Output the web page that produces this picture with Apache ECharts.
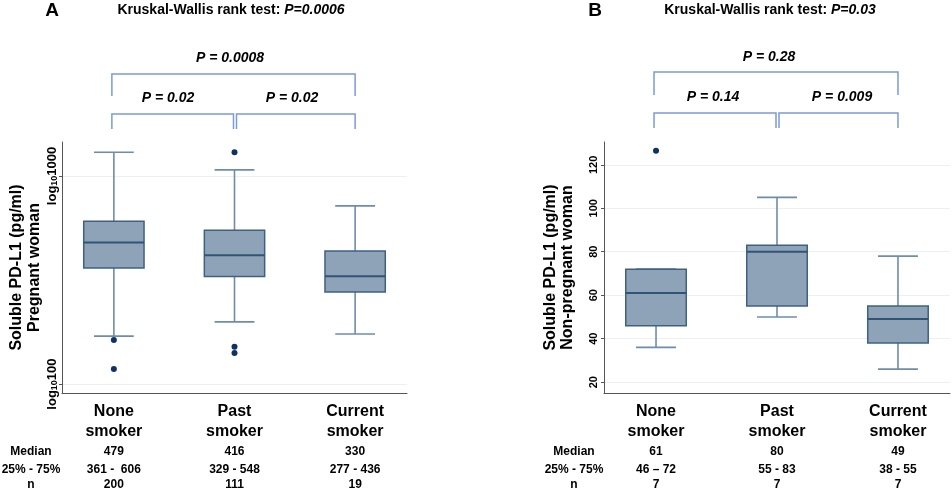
<!DOCTYPE html>
<html><head><meta charset="utf-8">
<script src="https://cdn.jsdelivr.net/npm/echarts@6/dist/echarts.min.js"></script>
<style>html,body{margin:0;padding:0;background:#fff}#c{width:952px;height:489px}</style>
</head><body><div id="c"></div>
<script>
// ---------- data ----------
const categories = ['None\nsmoker', 'Past\nsmoker', 'Current\nsmoker'];
const catPos = [1, 2, 3];
const rowHeaders = ['Median', '25% - 75%', 'n'];

// Panel A: pregnant women (log scale), [min whisker, Q1, median, Q3, max whisker]
const boxA = [
  [170, 361, 479, 606, 1300],
  [199, 329, 416, 548, 1070],
  [174, 277, 330, 436, 718]
];
const outliersA = [[1, 163], [1, 118], [2, 1300], [2, 151], [2, 141]];
const mediansA = ['479', '416', '330'];
const iqrA = ['361 -  606', '329 - 548', '277 - 436'];
const nA = ['200', '111', '19'];
const yTicksA = [100, 1000];

// Panel B: non-pregnant women
const boxB = [
  [36, 46, 61, 72, 72],
  [50, 55, 80, 83, 105],
  [26, 38, 49, 55, 78]
];
const outliersB = [[1, 126.5]];
const mediansB = ['61', '80', '49'];
const iqrB = ['46 \u2013 72', '55 - 83', '38 - 55'];
const nB = ['7', '7', '7'];
const yTicksB = [20, 40, 60, 80, 100, 120];

const titleA = ['Kruskal-Wallis rank test: ', 'P=0.0006'];
const titleB = ['Kruskal-Wallis rank test: ', 'P=0.03'];
const pairA = ['P = 0.0008', 'P = 0.02', 'P = 0.02'];
const pairB = ['P = 0.28', 'P = 0.14', 'P = 0.009'];

// ---------- styles ----------
const FONT = 'Liberation Sans, Arial, sans-serif';
const boxFill = '#8fa3b8', boxStroke = '#3e6182', whiskerColor = '#6e8cab', dotColor = '#0f3360';
const bracketColor = '#7b9bd8';

function renderBox(params, api) {
  const x = api.value(0);
  const lo = api.coord([x, api.value(1)]);
  const q1 = api.coord([x, api.value(2)]);
  const md = api.coord([x, api.value(3)]);
  const q3 = api.coord([x, api.value(4)]);
  const hi = api.coord([x, api.value(5)]);
  const unit = api.size([1, 0])[0];
  const bw = unit * 0.5, cw = unit * 0.33;
  const cx = lo[0];
  const ws = { stroke: whiskerColor, lineWidth: 1.6 };
  return { type: 'group', children: [
    { type: 'line', shape: { x1: cx, y1: hi[1], x2: cx, y2: q3[1] }, style: ws },
    { type: 'line', shape: { x1: cx, y1: q1[1], x2: cx, y2: lo[1] }, style: ws },
    { type: 'line', shape: { x1: cx - cw / 2, y1: hi[1], x2: cx + cw / 2, y2: hi[1] }, style: ws },
    { type: 'line', shape: { x1: cx - cw / 2, y1: lo[1], x2: cx + cw / 2, y2: lo[1] }, style: ws },
    { type: 'rect', shape: { x: cx - bw / 2, y: q3[1], width: bw, height: q1[1] - q3[1] },
      style: { fill: boxFill, stroke: boxStroke, lineWidth: 1.5 } },
    { type: 'line', shape: { x1: cx - bw / 2, y1: md[1], x2: cx + bw / 2, y2: md[1] },
      style: { stroke: '#2f5476', lineWidth: 2 } }
  ]};
}

const labelRich = {
  c: { fontSize: 16, fontWeight: 'bold', lineHeight: 20, color: '#000', fontFamily: FONT },
  r1: { fontSize: 12, fontWeight: 'bold', lineHeight: 20, color: '#000', fontFamily: FONT },
  r: { fontSize: 12, fontWeight: 'bold', lineHeight: 15, color: '#000', fontFamily: FONT }
};
function catLabel(meds, iqrs, ns) {
  return function (v) {
    const i = Math.round(v) - 1;
    const parts = categories[i].split('\n');
    return '{c|' + parts[0] + '}\n{c|' + parts[1] + '}\n{r1|' + meds[i] + '}\n{r|' + iqrs[i] + '}\n{r|' + ns[i] + '}';
  };
}
function xAxisFor(gridIndex, meds, iqrs, ns) {
  return {
    type: 'value', gridIndex: gridIndex, min: 0.57, max: 3.43,
    axisLine: { show: true, lineStyle: { color: '#555', width: 1 } },
    axisTick: { show: false },
    splitLine: { show: false },
    axisLabel: { customValues: catPos, margin: 9, formatter: catLabel(meds, iqrs, ns), rich: labelRich }
  };
}

const chart = echarts.init(document.getElementById('c'), null, { renderer: 'canvas' });
chart.setOption({
  animation: false,
  textStyle: { fontFamily: FONT },
  grid: [
    { left: 62, top: 142, width: 345, height: 251, containLabel: false, outerBoundsMode: 'none' },
    { left: 604, top: 142, width: 346, height: 251, containLabel: false, outerBoundsMode: 'none' }
  ],
  xAxis: [xAxisFor(0, mediansA, iqrA, nA), xAxisFor(1, mediansB, iqrB, nB)],
  yAxis: [
    {
      type: 'log', logBase: 10, gridIndex: 0, min: 90.6, max: 1456,
      name: 'Soluble PD-L1 (pg/ml)\nPregnant woman', nameLocation: 'middle', nameRotate: 90, nameGap: 18,
      nameTextStyle: { fontSize: 16, fontWeight: 'bold', lineHeight: 18, color: '#000', fontFamily: FONT },
      axisLine: { show: true, lineStyle: { color: '#555', width: 1 } },
      axisTick: { show: true, length: 3, customValues: yTicksA, lineStyle: { color: '#555' } },
      splitLine: { show: true, lineStyle: { color: '#edf0f3', width: 1.2 } },
      axisLabel: {
        customValues: yTicksA, rotate: 90, margin: 3,
        formatter: function (v) { return '{a|log}{s|10}{a|' + v + '}'; },
        rich: {
          a: { fontSize: 13, fontWeight: 'bold', color: '#000', lineHeight: 14, fontFamily: FONT },
          s: { fontSize: 9, fontWeight: 'bold', color: '#000', lineHeight: 14, verticalAlign: 'bottom', padding: [4, 0, 0, 0], fontFamily: FONT }
        }
      }
    },
    {
      type: 'value', gridIndex: 1, min: 15, max: 130.5,
      name: 'Soluble PD-L1 (pg/ml)\nNon-pregnant woman', nameLocation: 'middle', nameRotate: 90, nameGap: 28,
      nameTextStyle: { fontSize: 16, fontWeight: 'bold', lineHeight: 17, color: '#000', fontFamily: FONT },
      axisLine: { show: true, lineStyle: { color: '#555', width: 1 } },
      axisTick: { show: true, length: 3, customValues: yTicksB, lineStyle: { color: '#555' } },
      splitLine: { show: true, lineStyle: { color: '#edf0f3', width: 1.2 } },
      axisLabel: { customValues: yTicksB, rotate: 90, margin: 5, fontSize: 11, fontWeight: 'bold', color: '#000' }
    }
  ],
  series: [
    { type: 'custom', xAxisIndex: 0, yAxisIndex: 0, renderItem: renderBox,
      encode: { x: 0, y: [1, 2, 3, 4, 5] }, data: boxA.map((b, i) => [catPos[i]].concat(b)) },
    { type: 'scatter', xAxisIndex: 0, yAxisIndex: 0, symbolSize: 6,
      itemStyle: { color: dotColor, opacity: 1 }, data: outliersA },
    { type: 'custom', xAxisIndex: 1, yAxisIndex: 1, renderItem: renderBox,
      encode: { x: 0, y: [1, 2, 3, 4, 5] }, data: boxB.map((b, i) => [catPos[i]].concat(b)) },
    { type: 'scatter', xAxisIndex: 1, yAxisIndex: 1, symbolSize: 6,
      itemStyle: { color: dotColor, opacity: 1 }, data: outliersB }
  ]
});

// ---------- annotations ----------
function px(axisIdx, v) { return chart.convertToPixel({ xAxisIndex: axisIdx }, v); }
const graphics = [];
function txt(x, y, text, style) {
  graphics.push({ type: 'text', x: x, y: y, silent: true,
    style: Object.assign({ text: text, align: 'center', verticalAlign: 'middle', fill: '#000',
      fontFamily: FONT, fontWeight: 'bold' }, style) });
}
function bracket(points) {
  graphics.push({ type: 'polyline', silent: true, shape: { points: points },
    style: { stroke: bracketColor, lineWidth: 1.5, fill: null } });
}
function panelAnnot(ai, panelLetter, letterX, title, titleX, pairs, bigTop, bigBot, smTop, smBot, pLabelPos, headerX) {
  const p1 = px(ai, 1), p2 = px(ai, 2), p3 = px(ai, 3);
  txt(letterX, 11, panelLetter, { fontSize: 19 });
  txt(titleX, 10, '{b|' + title[0] + '}{i|' + title[1] + '}', {
    rich: { b: { fontSize: 14, fontWeight: 'bold', fontFamily: FONT, fill: '#000' },
            i: { fontSize: 14, fontWeight: 'bold', fontStyle: 'italic', fontFamily: FONT, fill: '#000' } } });
  bracket([[p1 - 2, bigBot], [p1 - 2, bigTop], [p3, bigTop], [p3, bigBot]]);
  bracket([[p1 - 2, smBot], [p1 - 2, smTop], [p2 - 1, smTop], [p2 - 1, smBot]]);
  bracket([[p2 + 2, smBot], [p2 + 2, smTop], [p3, smTop], [p3, smBot]]);
  for (let k = 0; k < 3; k++) {
    txt(pLabelPos[k][0], pLabelPos[k][1], pairs[k], { fontSize: 14, fontStyle: 'italic' });
  }
  graphics.push({ type: 'text', x: headerX, y: 402, silent: true,
    style: { text: '{c| }\n{c| }\n{r1|' + rowHeaders[0] + '}\n{r|' + rowHeaders[1] + '}\n{r|' + rowHeaders[2] + '}',
      align: 'center', verticalAlign: 'top', rich: labelRich } });
}
panelAnnot(0, 'A', 52, titleA, 231, pairA, 74, 96, 114, 129, [[230, 58], [168, 98], [292, 98]], 31);
panelAnnot(1, 'B', 595, titleB, 770, pairB, 72, 95, 113, 128, [[769, 57], [713, 97], [842, 97]], 574);
chart.setOption({ graphic: graphics });
</script>
</body></html>
